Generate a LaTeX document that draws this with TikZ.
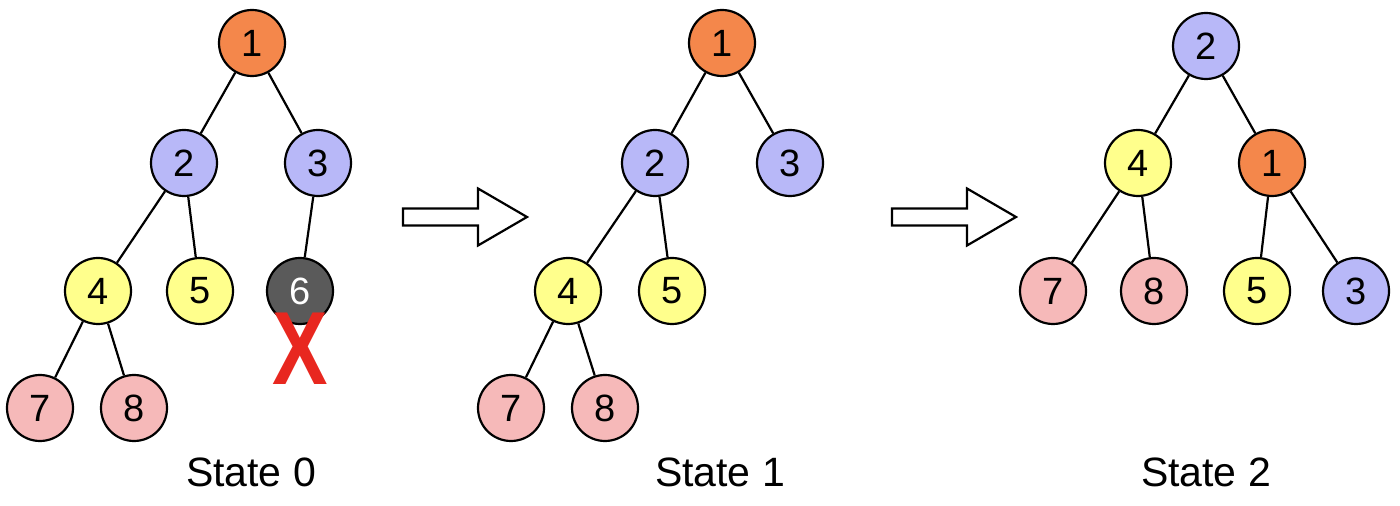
\documentclass[tikz,border=0pt]{standalone}
\usepackage{fontspec}
\setmainfont{Liberation Sans}
\usetikzlibrary{positioning}
\definecolor{heaporange}{HTML}{F4874B}
\definecolor{heapblue}{HTML}{B8B8F8}
\definecolor{heapyellow}{HTML}{FFFF8C}
\definecolor{heappink}{HTML}{F6B9B9}
\definecolor{heapgray}{HTML}{5A5A5A}
\definecolor{heapred}{HTML}{E8271F}
\tikzstyle{key} = [circle, draw, line width=1.1pt, minimum size=33pt, inner sep=0pt,
    font=\fontsize{19}{21}\selectfont]
\tikzstyle{org} = [key, fill=heaporange]
\tikzstyle{blu} = [key, fill=heapblue]
\tikzstyle{yel} = [key, fill=heapyellow]
\tikzstyle{pnk} = [key, fill=heappink]
\tikzstyle{gone} = [key, fill=heapgray, text=white]
\tikzstyle{caption} = [font=\fontsize{20.5}{23}\selectfont]
\newcommand{\bigarrow}[2]{%
  \draw[line width=1.1pt, fill=white] (#1,#2-8.5) -- (#1+75,#2-8.5) -- (#1+75,#2-28.5)
    -- (#1+124,#2) -- (#1+75,#2+28.5) -- (#1+75,#2+8.5) -- (#1,#2+8.5) -- cycle;}

\begin{document}
\begin{tikzpicture}[x=0.5pt,y=-0.5pt,line width=1.1pt]
  \useasboundingbox (0,0) rectangle (1400,506);

  % state 0
  \node[org]  (a1) at (252,43)  {1};
  \node[blu]  (a2) at (184,163) {2};
  \node[blu]  (a3) at (318,163) {3};
  \node[yel]  (a4) at (98,291)  {4};
  \node[yel]  (a5) at (200,291) {5};
  \node[gone] (a6) at (300,291) {6};
  \node[pnk]  (a7) at (40,408)  {7};
  \node[pnk]  (a8) at (134,408) {8};
  \path (a1) edge (a2)
        (a1) edge (a3)
        (a2) edge (a4)
        (a2) edge (a5)
        (a3) edge (a6)
        (a4) edge (a7)
        (a4) edge (a8);
  \node[text=heapred, font=\fontsize{52}{52}\bfseries\selectfont, xscale=0.8, inner sep=0pt]
    (cross) at (300,349) {X};
  \node[caption] (cap0) at (251,472) {State 0};

  \bigarrow{403}{217}

  % state 1
  \node[org] (b1) at (722,43)  {1};
  \node[blu] (b2) at (655,163) {2};
  \node[blu] (b3) at (790,163) {3};
  \node[yel] (b4) at (568,291) {4};
  \node[yel] (b5) at (672,291) {5};
  \node[pnk] (b7) at (511,408) {7};
  \node[pnk] (b8) at (605,408) {8};
  \path (b1) edge (b2)
        (b1) edge (b3)
        (b2) edge (b4)
        (b2) edge (b5)
        (b4) edge (b7)
        (b4) edge (b8);
  \node[caption] (cap1) at (720,472) {State 1};

  \bigarrow{892}{217}

  % state 2
  \node[blu] (c2) at (1206,46)  {2};
  \node[yel] (c4) at (1138,163) {4};
  \node[org] (c1) at (1272,163) {1};
  \node[pnk] (c7) at (1053,291) {7};
  \node[pnk] (c8) at (1154,291) {8};
  \node[yel] (c5) at (1257,291) {5};
  \node[blu] (c3) at (1356,291) {3};
  \path (c2) edge (c4)
        (c2) edge (c1)
        (c4) edge (c7)
        (c4) edge (c8)
        (c1) edge (c5)
        (c1) edge (c3);
  \node[caption] (cap2) at (1206,472) {State 2};
\end{tikzpicture}
\end{document}
